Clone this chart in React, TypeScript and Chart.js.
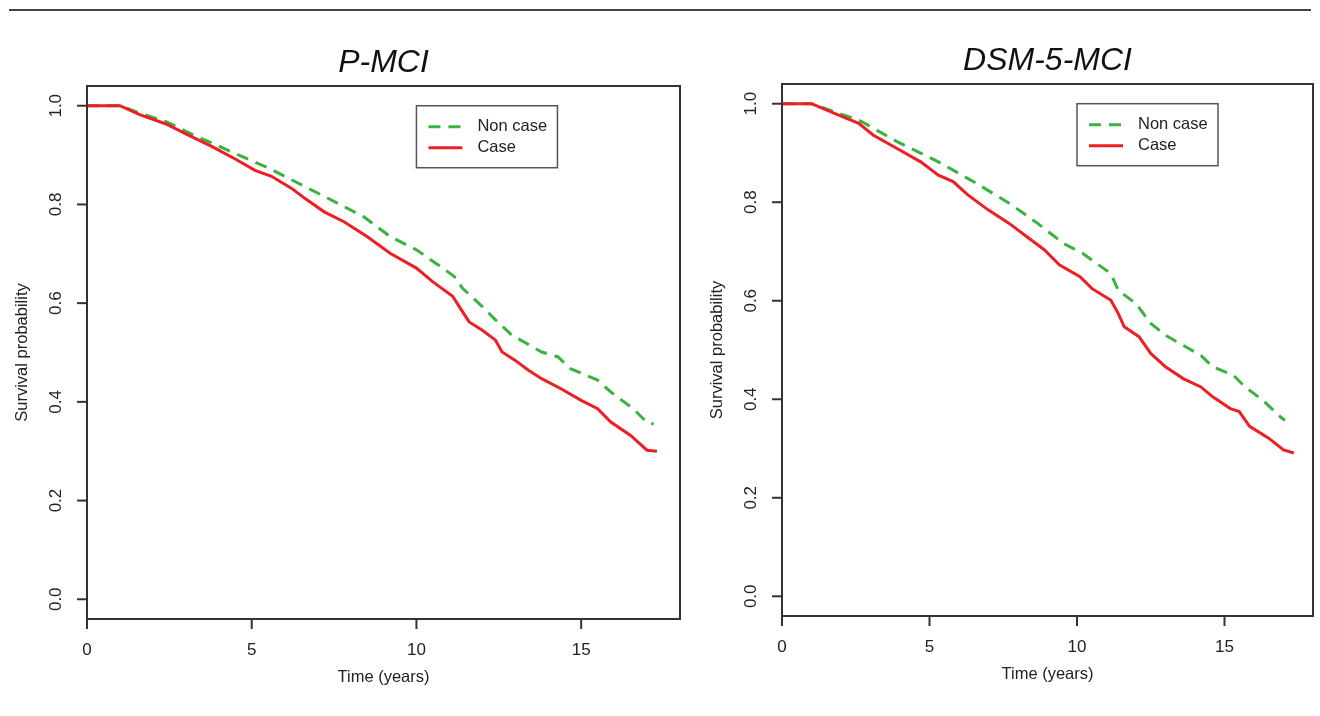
import React, { useEffect, useRef } from "react";
import { Chart, registerables } from "chart.js";

Chart.register(...registerables);

// ---------- data ----------
const seriesNames = ["Non case", "Case"];
const xTickValues = [0, 5, 10, 15];
const yTickValues = [0, 0.2, 0.4, 0.6, 0.8, 1.0];
const yTickLabels = ["0.0", "0.2", "0.4", "0.6", "0.8", "1.0"];
const xAxisTitle = "Time (years)";
const yAxisTitle = "Survival probability";

// P-MCI panel
const pmciNonTime = [0, 1.0, 1.6, 2.4, 3.0, 3.8, 4.5, 5.5, 6.5, 7.3, 8.4, 9.2, 10.0, 10.8, 11.15, 11.4, 12.0, 12.4, 12.9, 13.8, 14.3, 14.65, 15.5, 15.9, 16.6, 17.0, 17.2];
const pmciNonSurv = [1, 1, 0.985, 0.968, 0.948, 0.924, 0.903, 0.874, 0.84, 0.813, 0.775, 0.735, 0.708, 0.671, 0.654, 0.63, 0.593, 0.566, 0.535, 0.501, 0.491, 0.468, 0.444, 0.42, 0.385, 0.358, 0.355];
const pmciCaseTime = [0, 1.0, 1.6, 2.4, 3.0, 3.8, 4.5, 5.1, 5.6, 6.2, 6.6, 7.2, 7.8, 8.5, 9.2, 10.0, 10.5, 11.1, 11.3, 11.6, 12.0, 12.4, 12.6, 13.0, 13.4, 13.8, 14.4, 15.0, 15.5, 15.9, 16.5, 17.0, 17.3];
const pmciCaseSurv = [1, 1, 0.982, 0.963, 0.943, 0.917, 0.892, 0.869, 0.857, 0.833, 0.813, 0.785, 0.765, 0.735, 0.701, 0.671, 0.643, 0.614, 0.593, 0.562, 0.545, 0.525, 0.501, 0.484, 0.464, 0.447, 0.426, 0.403, 0.386, 0.359, 0.332, 0.302, 0.3];

// DSM-5-MCI panel
const dsmNonTime = [0, 1.0, 1.8, 2.6, 3.9, 5.3, 6.6, 7.7, 8.6, 9.55, 10.2, 11.15, 11.4, 12.0, 12.5, 13.0, 13.7, 14.2, 14.6, 15.3, 15.7, 16.3, 16.9, 17.05];
const dsmNonSurv = [1, 1, 0.983, 0.967, 0.923, 0.882, 0.838, 0.798, 0.76, 0.716, 0.696, 0.655, 0.621, 0.594, 0.554, 0.53, 0.506, 0.489, 0.466, 0.449, 0.425, 0.398, 0.364, 0.357];
const dsmCaseTime = [0, 1.0, 1.8, 2.6, 3.1, 3.9, 4.7, 5.3, 5.8, 6.3, 7.0, 7.7, 8.3, 8.9, 9.4, 10.1, 10.5, 11.15, 11.4, 11.6, 12.1, 12.5, 13.0, 13.6, 14.2, 14.6, 15.2, 15.5, 15.85, 16.5, 17.0, 17.35];
const dsmCaseSurv = [1, 1, 0.98, 0.96, 0.936, 0.909, 0.882, 0.855, 0.842, 0.815, 0.784, 0.757, 0.73, 0.703, 0.673, 0.649, 0.625, 0.601, 0.574, 0.547, 0.527, 0.493, 0.466, 0.442, 0.425, 0.405, 0.381, 0.375, 0.345, 0.321, 0.297, 0.291];

// ---------- styling ----------
const GREEN = "rgb(58,178,62)";
const RED = "rgb(238,30,36)";
const FONT = "'Liberation Sans', Arial, Helvetica, sans-serif";
const AXIS = "#333";

const zip = (t: number[], s: number[]) => t.map((v, i) => ({ x: v, y: s[i] }));

const panelPlugin = {
  id: "rPanel",
  afterDraw(chart: any, _args: any, opts: any) {
    const { ctx, chartArea: a } = chart;
    const xs = chart.scales.x;
    const ys = chart.scales.y;
    ctx.save();
    // plot box
    ctx.strokeStyle = AXIS;
    ctx.lineWidth = 2;
    ctx.strokeRect(a.left, a.top, a.right - a.left, a.bottom - a.top);

    ctx.fillStyle = "#222";
    ctx.lineWidth = 2;
    // x ticks
    ctx.font = `17px ${FONT}`;
    ctx.textAlign = "center";
    ctx.textBaseline = "middle";
    xTickValues.forEach((v) => {
      const px = xs.getPixelForValue(v);
      ctx.beginPath();
      ctx.moveTo(px, a.bottom);
      ctx.lineTo(px, a.bottom + 10);
      ctx.stroke();
      ctx.fillText(String(v), px, a.bottom + 31);
    });
    // y ticks (rotated labels, R style)
    yTickValues.forEach((v, i) => {
      const py = ys.getPixelForValue(v);
      ctx.beginPath();
      ctx.moveTo(a.left - 10, py);
      ctx.lineTo(a.left, py);
      ctx.stroke();
      ctx.save();
      ctx.translate(a.left - 31, py);
      ctx.rotate(-Math.PI / 2);
      ctx.fillText(yTickLabels[i], 0, 0);
      ctx.restore();
    });
    // axis titles
    ctx.font = `16.5px ${FONT}`;
    ctx.fillText(xAxisTitle, (a.left + a.right) / 2, a.bottom + 58);
    ctx.save();
    ctx.translate(a.left - 65, (a.top + a.bottom) / 2);
    ctx.rotate(-Math.PI / 2);
    ctx.fillText(yAxisTitle, 0, 0);
    ctx.restore();

    // main title
    ctx.fillStyle = "#111";
    ctx.font = `italic 32px ${FONT}`;
    ctx.textBaseline = "alphabetic";
    ctx.fillText(opts.title, (a.left + a.right) / 2, a.top - 14);

    // legend
    const lx = xs.getPixelForValue(opts.legendX);
    const ly = ys.getPixelForValue(opts.legendY);
    ctx.strokeStyle = "#555";
    ctx.lineWidth = 1.5;
    ctx.strokeRect(lx, ly, 141, 62);
    ctx.textAlign = "left";
    ctx.textBaseline = "middle";
    ctx.font = `16.5px ${FONT}`;
    chart.data.datasets.forEach((ds: any, i: number) => {
      const yy = ly + 21 + i * 21;
      ctx.save();
      ctx.strokeStyle = ds.borderColor;
      ctx.lineWidth = ds.borderWidth;
      ctx.setLineDash(ds.borderDash || []);
      ctx.beginPath();
      ctx.moveTo(lx + 12, yy);
      ctx.lineTo(lx + 46, yy);
      ctx.stroke();
      ctx.restore();
      ctx.fillStyle = "#222";
      ctx.fillText(ds.label, lx + 61, yy);
    });
    ctx.restore();
  },
};

type PanelProps = {
  title: string;
  left: number;
  width: number;
  padding: { left: number; right: number; top: number; bottom: number };
  nonTime: number[];
  nonSurv: number[];
  caseTime: number[];
  caseSurv: number[];
};

function Panel(p: PanelProps) {
  const ref = useRef<HTMLCanvasElement | null>(null);
  useEffect(() => {
    if (!ref.current) return;
    const chart = new Chart(ref.current, {
      type: "line",
      data: {
        datasets: [
          {
            label: seriesNames[0],
            data: zip(p.nonTime, p.nonSurv),
            borderColor: GREEN,
            borderWidth: 3,
            borderDash: [12, 8],
            pointRadius: 0,
            tension: 0,
            order: 2,
          },
          {
            label: seriesNames[1],
            data: zip(p.caseTime, p.caseSurv),
            borderColor: RED,
            borderWidth: 3,
            pointRadius: 0,
            tension: 0,
            order: 1,
          },
        ],
      },
      options: {
        animation: false,
        responsive: false,
        devicePixelRatio: 1,
        layout: { padding: p.padding },
        scales: {
          x: { type: "linear", min: 0, max: 18, display: false },
          y: { type: "linear", min: -0.04, max: 1.04, display: false },
        },
        plugins: {
          legend: { display: false },
          tooltip: { enabled: false },
          rPanel: { title: p.title, legendX: 10, legendY: 1.0 },
        } as any,
      },
      plugins: [panelPlugin],
    });
    return () => chart.destroy();
  }, []);
  return (
    <canvas
      ref={ref}
      width={p.width}
      height={716}
      style={{ position: "absolute", left: p.left, top: 0, width: p.width, height: 716 }}
    />
  );
}

export default function App() {
  return (
    <div style={{ position: "fixed", left: 0, top: 0, width: 1320, height: 716, background: "#fff", overflow: "hidden" }}>
      <div style={{ position: "absolute", left: 9, top: 9, width: 1302, height: 2, background: "#444" }} />
      <Panel
        title="P-MCI"
        left={0}
        width={700}
        padding={{ left: 87, right: 20, top: 86, bottom: 97 }}
        nonTime={pmciNonTime}
        nonSurv={pmciNonSurv}
        caseTime={pmciCaseTime}
        caseSurv={pmciCaseSurv}
      />
      <Panel
        title="DSM-5-MCI"
        left={700}
        width={620}
        padding={{ left: 82, right: 7, top: 84, bottom: 100 }}
        nonTime={dsmNonTime}
        nonSurv={dsmNonSurv}
        caseTime={dsmCaseTime}
        caseSurv={dsmCaseSurv}
      />
    </div>
  );
}
